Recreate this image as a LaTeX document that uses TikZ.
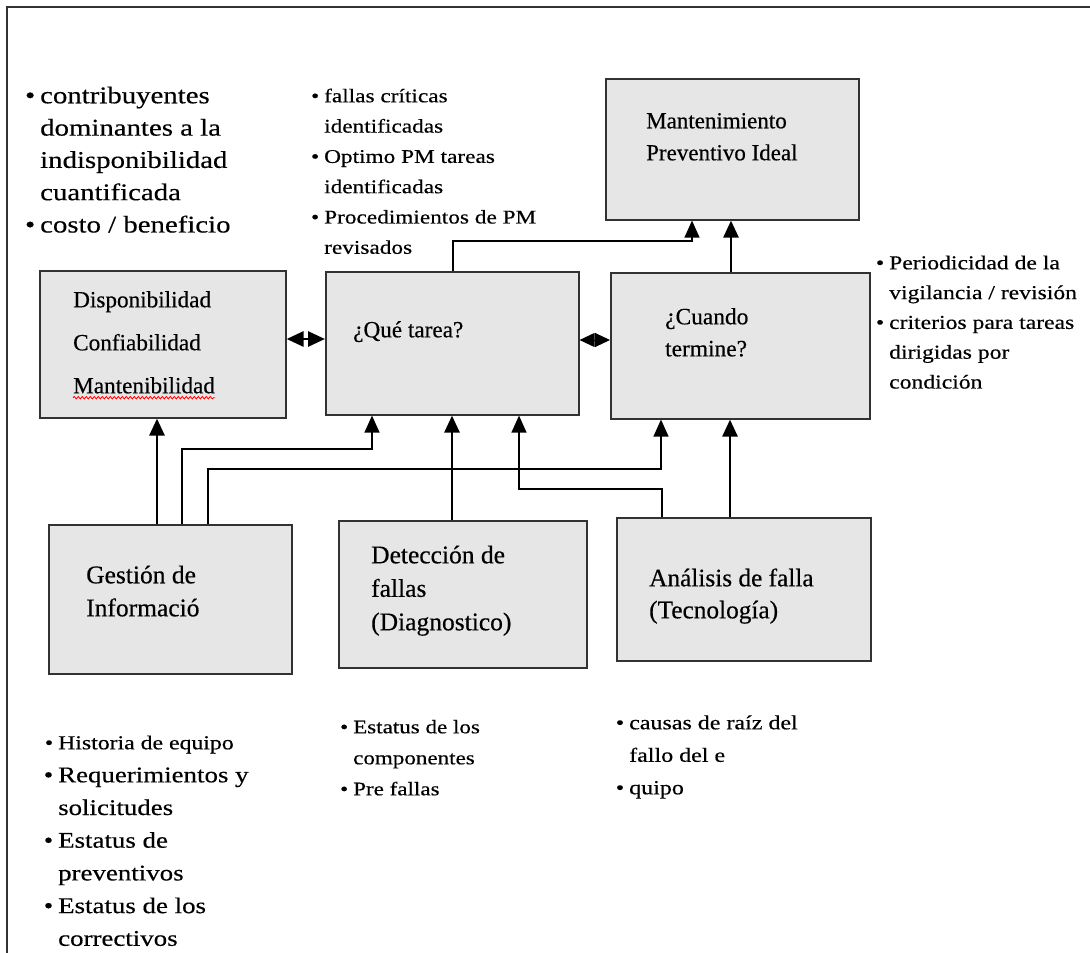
\documentclass[tikz,border=0pt]{standalone}
\usepackage{fontspec}
\setmainfont[FakeBold=0.4]{Liberation Serif}
\newfontfamily\lstfont[FakeStretch=1.2,FakeBold=0.4]{Liberation Serif}
\usetikzlibrary{arrows.meta,decorations.pathmorphing}
\definecolor{boxgray}{RGB}{230,230,230}
\definecolor{framec}{RGB}{50,50,50}
\newcommand\bul{\llap{\textbullet\hspace{5pt}}}
\newcommand\txtlines[6]{%
  \foreach \myline [count=\i from 0] in {#6} {%
    \node[txt, font=#5] (#1-\i) at (#2, {#3+\i*#4}) {\myline};}}
\begin{document}
\begin{tikzpicture}[x=1pt,y=-1pt,
  box/.style={draw=framec, line width=1.6pt, fill=boxgray, inner sep=0, anchor=north west},
  txt/.style={anchor=mid west, inner sep=0},
  tip/.tip={Triangle[length=17pt,width=15pt]},
  thk/.style={line width=2.8pt, -tip},
  thn/.style={line width=1.3pt, -tip},
  dbl/.style={line width=2.8pt, tip-tip},
  dia/.style={line width=1pt, {Triangle[length=15pt,width=14pt]}-{Triangle[length=15pt,width=14pt]}}]
\useasboundingbox (0,0) rectangle (1090,953);
% frame
\draw[framec, line width=1.5pt] (7,953) -- (7,7) -- (1090,7);
% boxes
\node[box, minimum width=253pt, minimum height=141pt] (mant) at (605,78) {};
\node[box, minimum width=246pt, minimum height=147pt] (disp) at (39,270) {};
\node[box, minimum width=253pt, minimum height=143pt] (que) at (325,271) {};
\node[box, minimum width=259pt, minimum height=146pt] (cuando) at (610,272) {};
\node[box, minimum width=243pt, minimum height=149pt] (gest) at (48,524) {};
\node[box, minimum width=248pt, minimum height=147pt] (detec) at (338,520) {};
\node[box, minimum width=254pt, minimum height=143pt] (anal) at (616,517) {};
% box texts
\txtlines{mt}{646}{126}{32}{\fontsize{23}{27}\selectfont}{Mantenimiento,Preventivo Ideal}
\txtlines{dt}{73}{305}{43}{\fontsize{23.2}{27}\selectfont}{Disponibilidad,Confiabilidad,Mantenibilidad}
\txtlines{qt}{353}{335}{30}{\fontsize{23.2}{27}\selectfont}{¿Qué tarea?}
\txtlines{ct}{665}{322}{32}{\fontsize{23.4}{27}\selectfont}{¿Cuando,termine?}
\txtlines{gt}{86}{581}{33}{\fontsize{25.5}{30}\selectfont}{Gestión de,Informació}
\txtlines{det}{371}{561}{33.5}{\fontsize{25.5}{30}\selectfont}{Detección de,fallas,(Diagnostico)}
\txtlines{at}{649}{584}{32}{\fontsize{25.3}{30}\selectfont}{Análisis de falla,(Tecnología)}
\draw[red, line width=0.8pt, decorate, decoration={snake, amplitude=1.2pt, segment length=4pt}]
  ([yshift=-4pt]dt-2.south west) -- ([yshift=-4pt]dt-2.south east);
% lists
\txtlines{tl}{40}{101}{32.3}{\lstfont\fontsize{24}{28}\selectfont}{\bul contribuyentes,dominantes a la,indisponibilidad,cuantificada,\bul costo / beneficio}
\txtlines{tm}{324}{100}{30.3}{\lstfont\fontsize{19.4}{24}\selectfont}{\bul fallas críticas,identificadas,\bul Optimo PM tareas,identificadas,\bul Procedimientos de PM,revisados}
\txtlines{tr}{889}{267}{29.8}{\lstfont\fontsize{19.7}{24}\selectfont}{\bul Periodicidad de la,vigilancia / revisión,\bul criterios para tareas,dirigidas por,condición}
\txtlines{bla}{58}{747}{0}{\lstfont\fontsize{19.8}{24}\selectfont}{\bul Historia de equipo}
\txtlines{bl}{58}{780}{32.7}{\lstfont\fontsize{22.4}{26}\selectfont}{\bul Requerimientos y,solicitudes,\bul Estatus de,preventivos,\bul Estatus de los,correctivos}
\txtlines{bm}{353}{731}{31}{\lstfont\fontsize{19.2}{24}\selectfont}{\bul Estatus de los,componentes,\bul Pre fallas}
\txtlines{br}{629}{727}{32.5}{\lstfont\fontsize{20}{24}\selectfont}{\bul causas de raíz del,fallo del e,\bul quipo}
% connectors
\draw[thk] (gest.north -| 157,0) -- (disp.south -| 157,0);
\draw[thn] (gest.north -| 182,0) -- (182,449) -- (372,449) -- (que.south -| 372,0);
\draw[thn] (gest.north -| 208,0) -- (208,469) -- (661,469) -- (cuando.south -| 661,0);
\draw[thk] (detec.north -| 452,0) -- (que.south -| 452,0);
\draw[thn] (anal.north -| 662,0) -- (662,489) -- (519,489) -- (que.south -| 519,0);
\draw[thk] (anal.north -| 730,0) -- (cuando.south -| 730,0);
\draw[thn] (que.north -| 453,0) -- (453,241) -- (692,241) -- (mant.south -| 692,0);
\draw[thk] (cuando.north -| 731,0) -- (mant.south -| 731,0);
\draw[dbl] (disp.east |- 0,339) -- (que.west |- 0,339);
\draw[dia] (que.east |- 0,340) -- (cuando.west |- 0,340);
\end{tikzpicture}
\end{document}
